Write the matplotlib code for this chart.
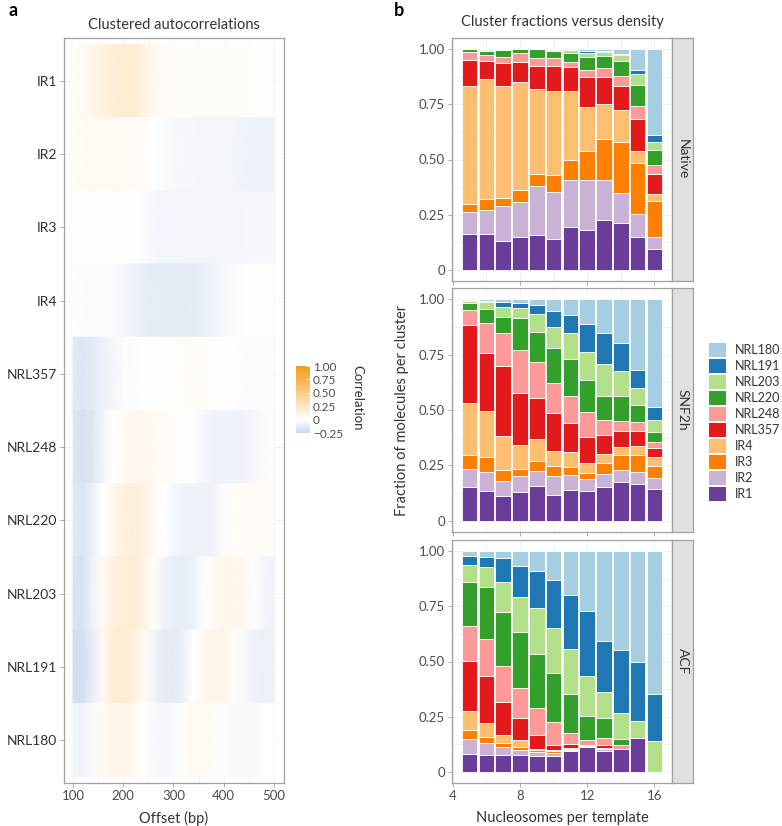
import matplotlib.pyplot as plt
import numpy as np
from matplotlib.cm import ScalarMappable
from matplotlib.colors import LinearSegmentedColormap, Normalize
from matplotlib.patches import Patch

plt.rcParams["font.family"] = ["Lato", "DejaVu Sans"]

# ---- panel a: clustered autocorrelations ----
offsets = np.arange(100, 501, 20)
clusters = ["IR1", "IR2", "IR3", "IR4", "NRL357", "NRL248",
            "NRL220", "NRL203", "NRL191", "NRL180"]
autocorr = [
    [0.03, 0.05, 0.09, 0.13, 0.16, 0.18, 0.18, 0.12, 0.07, 0.04, 0.03, 0.03, 0.03, 0.03, 0.03, 0.03, 0.03, 0.03, 0.02, 0.02, 0.02],
    [0.04, 0.05, 0.06, 0.06, 0.06, 0.05, 0.04, 0.03, 0.0, -0.03, -0.04, -0.05, -0.05, -0.06, -0.06, -0.06, -0.06, -0.07, -0.08, -0.08, -0.08],
    [0.01, 0.02, 0.02, 0.02, 0.01, 0.01, 0.0, -0.02, -0.05, -0.06, -0.06, -0.06, -0.06, -0.06, -0.06, -0.06, -0.06, -0.05, -0.05, -0.05, -0.05],
    [0.02, -0.02, -0.03, -0.03, -0.03, -0.05, -0.08, -0.11, -0.12, -0.13, -0.13, -0.13, -0.12, -0.10, -0.07, -0.05, -0.03, -0.01, 0.0, 0.01, 0.01],
    [-0.13, -0.16, -0.13, -0.08, -0.05, -0.03, -0.02, -0.01, 0.0, 0.01, 0.02, 0.03, 0.04, 0.03, 0.01, 0.0, -0.01, -0.02, -0.03, -0.03, -0.02],
    [-0.15, -0.2, -0.15, -0.06, 0.0, 0.05, 0.07, 0.07, 0.06, 0.04, 0.03, 0.01, -0.01, -0.05, -0.07, -0.08, -0.08, -0.07, -0.05, -0.03, -0.01],
    [-0.14, -0.17, -0.08, 0.0, 0.09, 0.13, 0.15, 0.12, 0.06, 0.0, -0.05, -0.07, -0.08, -0.08, -0.07, -0.02, 0.02, 0.04, 0.05, 0.04, 0.03],
    [-0.18, -0.19, -0.06, 0.06, 0.14, 0.17, 0.17, 0.12, 0.02, -0.07, -0.11, -0.11, -0.08, -0.01, 0.06, 0.09, 0.09, 0.06, -0.01, -0.06, -0.07],
    [-0.21, -0.21, -0.1, 0.06, 0.17, 0.18, 0.14, 0.06, -0.05, -0.13, -0.13, -0.08, 0.0, 0.07, 0.1, 0.09, 0.03, -0.04, -0.08, -0.09, -0.08],
    [-0.06, -0.07, -0.03, 0.06, 0.09, 0.09, 0.06, 0.0, -0.04, -0.05, -0.03, 0.03, 0.06, 0.06, 0.03, -0.02, -0.04, -0.04, -0.04, 0.0, 0.0],
]
cbar_ticks = [-0.25, 0, 0.25, 0.5, 0.75, 1.0]
cbar_labels = ["\u22120.25", "0", "0.25", "0.50", "0.75", "1.00"]

# ---- panel b: cluster fractions (cumulative top of each cluster, bottom to top) ----
densities = np.arange(5, 17)
cluster_colors = ["#6a3d9a", "#cab2d6", "#ff7f00", "#fdbf6f", "#e31a1c",
                  "#fb9a99", "#33a02c", "#b2df8a", "#1f78b4", "#a6cee3"]
native_top = [
    [0.163, 0.165, 0.129, 0.147, 0.157, 0.142, 0.195, 0.183, 0.228, 0.213, 0.150, 0.093],
    [0.261, 0.273, 0.288, 0.306, 0.378, 0.352, 0.406, 0.408, 0.408, 0.348, 0.255, 0.147],
    [0.300, 0.322, 0.327, 0.363, 0.435, 0.430, 0.498, 0.538, 0.595, 0.577, 0.483, 0.313],
    [0.832, 0.865, 0.832, 0.850, 0.819, 0.808, 0.808, 0.738, 0.753, 0.726, 0.540, 0.345],
    [0.951, 0.945, 0.936, 0.943, 0.924, 0.921, 0.918, 0.873, 0.873, 0.831, 0.685, 0.433],
    [0.986, 0.975, 0.966, 0.980, 0.960, 0.958, 0.943, 0.907, 0.913, 0.876, 0.741, 0.475],
    [0.998, 0.993, 0.996, 0.998, 1.000, 0.990, 0.980, 0.963, 0.967, 0.948, 0.837, 0.543],
    [0.999, 0.997, 0.998, 0.999, 1.000, 0.997, 0.995, 0.982, 0.985, 0.975, 0.885, 0.580],
    [1.000, 0.998, 0.999, 1.000, 1.000, 0.998, 0.996, 0.990, 0.991, 0.978, 0.907, 0.613],
    [1.0] * 12,
]
snf2h_top = [
    [0.155, 0.137, 0.114, 0.129, 0.159, 0.117, 0.141, 0.135, 0.155, 0.174, 0.168, 0.144],
    [0.236, 0.221, 0.179, 0.201, 0.227, 0.203, 0.209, 0.189, 0.210, 0.230, 0.219, 0.195],
    [0.299, 0.287, 0.230, 0.234, 0.269, 0.246, 0.245, 0.218, 0.263, 0.296, 0.296, 0.249],
    [0.532, 0.497, 0.383, 0.344, 0.369, 0.317, 0.311, 0.263, 0.300, 0.335, 0.339, 0.287],
    [0.884, 0.758, 0.698, 0.578, 0.553, 0.485, 0.443, 0.377, 0.387, 0.407, 0.407, 0.330],
    [0.953, 0.890, 0.848, 0.770, 0.715, 0.622, 0.565, 0.492, 0.455, 0.450, 0.447, 0.354],
    [0.983, 0.955, 0.920, 0.916, 0.850, 0.778, 0.728, 0.635, 0.563, 0.565, 0.523, 0.399],
    [0.991, 0.985, 0.965, 0.961, 0.931, 0.875, 0.845, 0.763, 0.707, 0.677, 0.598, 0.455],
    [0.995, 0.992, 0.986, 0.982, 0.973, 0.947, 0.928, 0.886, 0.848, 0.803, 0.680, 0.515],
    [1.0] * 12,
]
acf_top = [
    [0.082, 0.078, 0.078, 0.076, 0.073, 0.070, 0.094, 0.112, 0.097, 0.103, 0.153, 0.0],
    [0.150, 0.130, 0.112, 0.100, 0.090, 0.088, 0.100, 0.117, 0.105, 0.104, 0.153, 0.0],
    [0.190, 0.156, 0.133, 0.112, 0.099, 0.094, 0.105, 0.118, 0.106, 0.104, 0.153, 0.0],
    [0.277, 0.220, 0.166, 0.144, 0.106, 0.099, 0.108, 0.120, 0.107, 0.104, 0.153, 0.0],
    [0.502, 0.433, 0.316, 0.243, 0.169, 0.123, 0.127, 0.123, 0.120, 0.105, 0.153, 0.0],
    [0.661, 0.600, 0.480, 0.378, 0.291, 0.226, 0.178, 0.145, 0.153, 0.120, 0.153, 0.0],
    [0.862, 0.838, 0.723, 0.633, 0.532, 0.448, 0.355, 0.255, 0.246, 0.148, 0.153, 0.0],
    [0.937, 0.927, 0.861, 0.793, 0.741, 0.652, 0.558, 0.435, 0.363, 0.268, 0.229, 0.141],
    [0.978, 0.975, 0.967, 0.933, 0.910, 0.870, 0.801, 0.729, 0.592, 0.553, 0.499, 0.355],
    [1.0] * 12,
]
treatments = ["Native", "SNF2h", "ACF"]

W, H = 782, 826
GRID = "#ebebeb"
BORDER = "#a0a0a0"
TXT = "#333333"
TICKTXT = "#4d4d4d"


def box(x0, y0, x1, y1):
    """Pixel box (left, top, right, bottom) -> figure fraction rect."""
    return [x0 / W, 1 - y1 / H, (x1 - x0) / W, (y1 - y0) / H]


def style_axes(ax):
    for s in ax.spines.values():
        s.set_color(BORDER)
        s.set_linewidth(0.9)
    ax.tick_params(which="major", length=3, width=0.6, color=BORDER,
                   labelsize=9.5, labelcolor=TICKTXT, pad=2)
    ax.tick_params(which="minor", length=0)
    ax.grid(which="both", color=GRID, lw=0.5)
    ax.set_axisbelow(True)


fig = plt.figure(figsize=(W / 100, H / 100), dpi=100)

# panel a
cmap = LinearSegmentedColormap.from_list(
    "corr", [(0.0, "#cbd9ed"), (0.2, "#ffffff"), (0.4, "#fde5c4"),
             (0.6, "#fbcc88"), (0.8, "#f8b24a"), (1.0, "#f59c1a")])
norm = Normalize(-0.25, 1.0)

ax = fig.add_axes(box(64, 38, 284, 783))
for i, vals in enumerate(autocorr):
    ax.pcolormesh(offsets, [i - 0.5, i + 0.5], np.vstack([vals, vals]),
                  cmap=cmap, norm=norm, shading="gouraud", zorder=2)
ax.set_xlim(82, 520)
ax.set_ylim(9.5875, -0.5875)
ax.set_yticks(range(len(clusters)))
ax.set_yticklabels(clusters)
ax.set_xticks([100, 200, 300, 400, 500])
ax.set_xticks([150, 250, 350, 450], minor=True)
style_axes(ax)
ax.tick_params(axis="y", labelsize=10, labelcolor=TXT)
fig.text(174 / W, 1 - 818 / H, "Offset (bp)", ha="center", va="center",
         fontsize=10.5, color=TXT)
fig.text(174 / W, 1 - 25 / H, "Clustered autocorrelations", ha="center",
         va="center", fontsize=10.5, color=TXT)

cax = fig.add_axes(box(296, 366, 310, 433))
cb = fig.colorbar(ScalarMappable(norm=norm, cmap=cmap), cax=cax)
cb.set_ticks(cbar_ticks)
cb.set_ticklabels(cbar_labels)
cb.outline.set_visible(False)
cax.tick_params(length=3, width=0.6, color="white", direction="in",
                labelsize=8.5, labelcolor=TICKTXT, pad=2)
fig.text(357 / W, 1 - 398 / H, "Correlation", rotation=270, ha="center",
         va="center", fontsize=9.5, color=TXT)

# panel b
facet_px = [(38, 281), (288, 532), (540, 783)]
for name, tops, (y0, y1) in zip(treatments, [native_top, snf2h_top, acf_top], facet_px):
    tops = np.array(tops)
    fracs = np.diff(np.vstack([np.zeros(len(densities)), tops]), axis=0)
    bax = fig.add_axes(box(452, y0, 672, y1))
    bottom = np.zeros(len(densities))
    for frac, col in zip(fracs, cluster_colors):
        bax.bar(densities, frac, bottom=bottom, width=0.93, color=col,
                edgecolor="white", linewidth=0.6, zorder=2)
        bottom += frac
    bax.set_xlim(3.95, 17.05)
    bax.set_ylim(-0.05, 1.05)
    bax.set_yticks([0, 0.25, 0.5, 0.75, 1.0])
    bax.set_yticklabels(["0", "0.25", "0.50", "0.75", "1.00"])
    bax.set_yticks([0.125, 0.375, 0.625, 0.875], minor=True)
    bax.set_xticks([4, 8, 12, 16])
    bax.set_xticks([6, 10, 14], minor=True)
    style_axes(bax)
    if name != treatments[-1]:
        bax.tick_params(axis="x", labelbottom=False)

    sax = fig.add_axes(box(672, y0, 693, y1))
    sax.set_facecolor("#e0e0e0")
    sax.set_xticks([])
    sax.set_yticks([])
    for s in sax.spines.values():
        s.set_color(BORDER)
        s.set_linewidth(0.9)
    sax.text(0.5, 0.5, name, rotation=270, ha="center", va="center",
             fontsize=10, color=TXT, transform=sax.transAxes)

fig.text(562 / W, 1 - 22 / H, "Cluster fractions versus density", ha="center",
         va="center", fontsize=10.5, color=TXT)
fig.text(562 / W, 1 - 818 / H, "Nucleosomes per template", ha="center",
         va="center", fontsize=10.5, color=TXT)
fig.text(402 / W, 1 - 410 / H, "Fraction of molecules per cluster",
         rotation=90, ha="center", va="center", fontsize=10.5, color=TXT)

handles = [Patch(facecolor=c, edgecolor="none", label=n)
           for n, c in zip(clusters, cluster_colors)][::-1]
fig.legend(handles=handles, loc="center left",
           bbox_to_anchor=(709 / W, 1 - 422 / H), frameon=False,
           fontsize=9, handlelength=1.37, handleheight=1.35,
           labelspacing=0.16, handletextpad=0.7, borderpad=0,
           borderaxespad=0, labelcolor=TXT)

fig.text(13 / W, 1 - 11 / H, "a", ha="center", va="center", fontsize=13,
         fontweight="bold", color="black")
fig.text(399 / W, 1 - 11 / H, "b", ha="center", va="center", fontsize=13,
         fontweight="bold", color="black")

fig.savefig("out.png", dpi=100)
